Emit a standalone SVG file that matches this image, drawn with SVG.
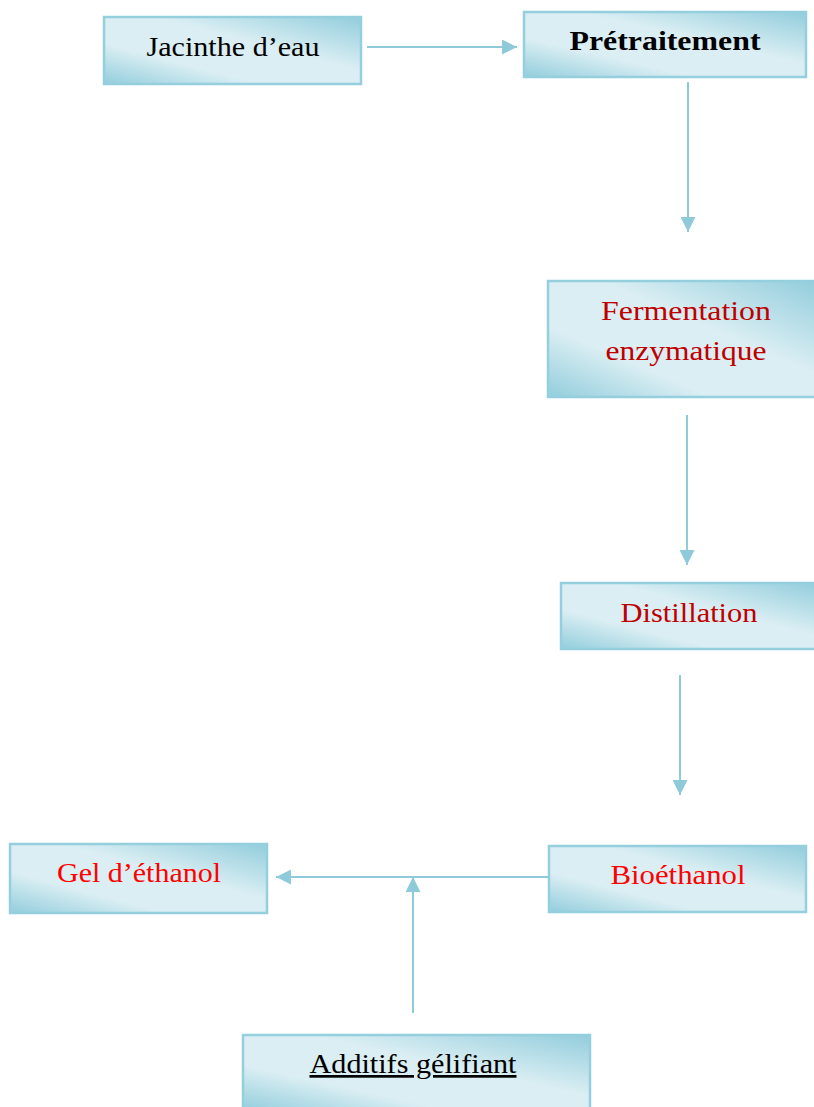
<svg xmlns="http://www.w3.org/2000/svg" width="814" height="1107" viewBox="0 0 814 1107">
<defs>
<linearGradient id="g" x1="0" y1="1" x2="1" y2="0">
<stop offset="0" stop-color="#92CDDC"/>
<stop offset="0.3" stop-color="#DAEEF3"/>
<stop offset="0.6" stop-color="#DAEEF3"/>
<stop offset="1" stop-color="#92CDDC"/>
</linearGradient>
<marker id="ah" viewBox="0 0 10 10" refX="10" refY="5" markerWidth="7.5" markerHeight="7.5" orient="auto" markerUnits="strokeWidth">
<path d="M0,0 L10,5 L0,10 Z" fill="#8FCADA"/>
</marker>
<style>
.box{fill:url(#g);stroke:#95CFDD;stroke-width:2.5}
.t{font-family:"Liberation Serif",serif;font-size:27px;text-anchor:middle}
.blk{fill:#000}
.dr{fill:#C00000}
.rd{fill:#FF0000}
.c{stroke:#8FCADA;stroke-width:2;fill:none}
</style>
</defs>
<rect width="814" height="1107" fill="#fff"/>
<g id="jacinthe"><rect class="box" x="104" y="17" width="257" height="67"/><text class="t blk" x="233" y="56" textLength="173" lengthAdjust="spacingAndGlyphs">Jacinthe d’eau</text></g>
<g id="pretraitement"><rect class="box" x="524" y="12" width="282" height="65"/><text class="t blk" x="665" y="50" font-weight="bold" textLength="191" lengthAdjust="spacingAndGlyphs">Prétraitement</text></g>
<g id="fermentation"><rect class="box" x="548" y="281" width="270" height="116"/><text class="t dr" x="686" y="320" textLength="170" lengthAdjust="spacingAndGlyphs">Fermentation</text><text class="t dr" x="686" y="360" textLength="161" lengthAdjust="spacingAndGlyphs">enzymatique</text></g>
<g id="distillation"><rect class="box" x="561" y="583" width="257" height="66"/><text class="t dr" x="689" y="622" textLength="137" lengthAdjust="spacingAndGlyphs">Distillation</text></g>
<g id="bioethanol"><rect class="box" x="549" y="846" width="257" height="66"/><text class="t rd" x="678" y="884" textLength="135" lengthAdjust="spacingAndGlyphs">Bioéthanol</text></g>
<g id="gel"><rect class="box" x="10" y="844" width="257" height="69"/><text class="t rd" x="139" y="882" textLength="164" lengthAdjust="spacingAndGlyphs">Gel d’éthanol</text></g>
<g id="additifs"><rect class="box" x="243" y="1035" width="347" height="76"/><text class="t blk" x="413" y="1073" text-decoration="underline" textLength="207" lengthAdjust="spacingAndGlyphs">Additifs gélifiant</text></g>
<g id="connectors">
<line class="c" x1="367" y1="47" x2="517" y2="47" marker-end="url(#ah)"/>
<line class="c" x1="688" y1="82" x2="688" y2="232" marker-end="url(#ah)"/>
<line class="c" x1="687" y1="415" x2="687" y2="565" marker-end="url(#ah)"/>
<line class="c" x1="680" y1="675" x2="680" y2="795" marker-end="url(#ah)"/>
<line class="c" x1="549" y1="877" x2="276" y2="877" marker-end="url(#ah)"/>
<line class="c" x1="413" y1="1013" x2="413" y2="877" marker-end="url(#ah)"/>
</g>
</svg>
